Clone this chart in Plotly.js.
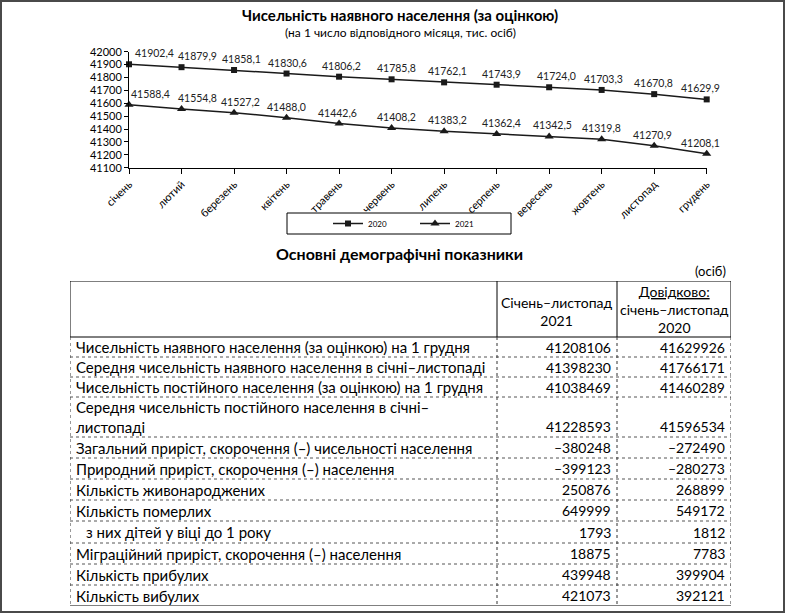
<!DOCTYPE html>
<html>
<head>
<meta charset="utf-8">
<script src="https://cdn.plot.ly/plotly-3.0.1.min.js"></script>
<style>html,body{margin:0;padding:0;background:#fff}#chart{width:786px;height:614px}</style>
</head>
<body>
<div id="chart"></div>
<script>
// ---- Chart data ----
const months = ['січень','лютий','березень','квітень','травень','червень','липень','серпень','вересень','жовтень','листопад','грудень'];
const pop2020 = [41902.4, 41879.9, 41858.1, 41830.6, 41806.2, 41785.8, 41762.1, 41743.9, 41724.0, 41703.3, 41670.8, 41629.9];
const pop2021 = [41588.4, 41554.8, 41527.2, 41488.0, 41442.6, 41408.2, 41383.2, 41362.4, 41342.5, 41319.8, 41270.9, 41208.1];
const seriesNames = ['2020', '2021'];

// ---- Table data ----
const tableHeader2021 = 'Січень–листопад<br>2021';
const tableHeader2020 = '<span style="text-decoration:underline">Довідково:</span><br>січень–листопад<br>2020';
const rowLabels = [
  'Чисельність наявного населення (за оцінкою) на 1 грудня',
  'Середня чисельність наявного населення в січні–листопаді',
  'Чисельність постійного населення (за оцінкою) на 1 грудня',
  'Середня чисельність постійного населення в січні–<br>листопаді',
  'Загальний приріст, скорочення (–) чисельності населення',
  'Природний приріст, скорочення (–) населення',
  'Кількість живонароджених',
  'Кількість померлих',
  '  з них дітей у віці до 1 року',
  'Міграційний приріст, скорочення (–) населення',
  'Кількість прибулих',
  'Кількість вибулих'
];
const values2021 = [41208106, 41398230, 41038469, 41228593, -380248, -399123, 250876, 649999, 1793, 18875, 439948, 421073];
const values2020 = [41629926, 41766171, 41460289, 41596534, -272490, -280273, 268899, 549172, 1812, 7783, 399904, 392121];

// ---- Layout constants ----
const W = 786, H = 614;
const FONT = 'Lato, "Open Sans", sans-serif';
const INK = '#1a1a1a';
const py = p => 1 - p / H;   // pixel row -> paper y
const px = p => p / W;       // pixel col -> paper x

const fmtDec = v => v.toFixed(1).replace('.', ',');
const fmtInt = v => (v < 0 ? '–' + Math.abs(v) : String(v));

// horizontal nudges (px) of the value labels, as placed in the original chart
const labelShift2020 = [25, 16, 7, 1, 2, 5, 3, 5, 7, 2, -1, -6];
const labelShift2021 = [21, 16, 6, 0, -2, 5, 3, 5, 3, 0, -2, -6];

const traces = [
  {
    x: months, y: pop2020, name: seriesNames[0], type: 'scatter', mode: 'lines+markers',
    line: {color: INK, width: 1.5}, marker: {symbol: 'square', size: 6, color: INK},
    cliponaxis: false, hoverinfo: 'x+y'
  },
  {
    x: months, y: pop2021, name: seriesNames[1], type: 'scatter', mode: 'lines+markers',
    line: {color: INK, width: 1.5}, marker: {symbol: 'triangle-up', size: 8, color: INK},
    cliponaxis: false, hoverinfo: 'x+y'
  }
];

const annotations = [];
const shapes = [];

// value labels, anchored to the data points through the axes
const lblFont = {family: FONT, size: 10.5, color: '#222'};
months.forEach((m, i) => {
  annotations.push({xref: 'x', yref: 'y', x: m, y: pop2020[i], text: fmtDec(pop2020[i]), showarrow: false,
    xanchor: 'center', yanchor: 'middle', xshift: labelShift2020[i], yshift: 11, font: lblFont});
  annotations.push({xref: 'x', yref: 'y', x: m, y: pop2021[i], text: fmtDec(pop2021[i]), showarrow: false,
    xanchor: 'center', yanchor: 'middle', xshift: labelShift2021[i], yshift: 11, font: lblFont});
});

// ---- Table geometry (table axes: x2 in fraction of table width, y2 in px from table top) ----
const tableTopPx = 281;
const headerH = 56;
const rowH = [20, 20, 20, 40, 21, 21, 21, 21, 22, 21, 21, 21];
const tableH = headerH + rowH.reduce((a, b) => a + b, 0);
const tLeft = 70, tRight = 731;
const colB = [0, (497 - tLeft) / (tRight - tLeft), (617 - tLeft) / (tRight - tLeft), 1];
const padX = 4 / (tRight - tLeft);

// titles
annotations.push({xref: 'paper', yref: 'paper', x: px(400), y: py(15), text: '<b>Чисельність наявного населення (за оцінкою)</b>',
  showarrow: false, xanchor: 'center', yanchor: 'middle', font: {family: FONT, size: 15, color: '#000'}});
annotations.push({xref: 'paper', yref: 'paper', x: px(400), y: py(32), text: '(на 1 число відповідного місяця, тис. осіб)',
  showarrow: false, xanchor: 'center', yanchor: 'middle', font: {family: FONT, size: 12, color: '#000'}});
annotations.push({xref: 'paper', yref: 'paper', x: px(399), y: py(254), text: '<b>Основні демографічні показники</b>',
  showarrow: false, xanchor: 'center', yanchor: 'middle', font: {family: FONT, size: 16, color: '#000'}});
annotations.push({xref: 'paper', yref: 'paper', x: px(728), y: py(271), text: '(осіб)',
  showarrow: false, xanchor: 'right', yanchor: 'middle', font: {family: FONT, size: 13, color: '#000'}});

// header cells
const tfont = {family: FONT, size: 14, color: '#000'};
const lfont = {family: FONT, size: 15, color: '#000'};
annotations.push({xref: 'x2', yref: 'y2', x: (colB[1] + colB[2]) / 2, y: headerH / 2 + 2, text: tableHeader2021,
  showarrow: false, xanchor: 'center', yanchor: 'middle', align: 'center', font: tfont});
annotations.push({xref: 'x2', yref: 'y2', x: (colB[2] + colB[3]) / 2, y: headerH / 2, text: tableHeader2020,
  showarrow: false, xanchor: 'center', yanchor: 'middle', align: 'center', font: tfont});

// body cells
let rowTop = headerH;
const bounds = [0, headerH];
rowLabels.forEach((lab, i) => {
  const h = rowH[i];
  const mid = rowTop + h / 2;
  const numY = lab.includes('<br>') ? rowTop + h - 10.5 : mid;
  const indent = lab.startsWith('  ') ? 10 / (tRight - tLeft) : 0;
  annotations.push({xref: 'x2', yref: 'y2', x: colB[0] + padX + indent, y: mid, text: lab.trim(),
    showarrow: false, xanchor: 'left', yanchor: 'middle', align: 'left', font: lfont});
  annotations.push({xref: 'x2', yref: 'y2', x: colB[2] - padX, y: numY, text: fmtInt(values2021[i]),
    showarrow: false, xanchor: 'right', yanchor: 'middle', font: tfont});
  annotations.push({xref: 'x2', yref: 'y2', x: colB[3] - padX, y: numY, text: fmtInt(values2020[i]),
    showarrow: false, xanchor: 'right', yanchor: 'middle', font: tfont});
  rowTop += h;
  bounds.push(rowTop);
});

// table lines
bounds.forEach((b, i) => {
  const solid = (i === 0 || i === 1 || i === bounds.length - 1);
  shapes.push({type: 'line', xref: 'x2', yref: 'y2', x0: 0, x1: 1, y0: b, y1: b,
    line: {color: solid ? '#000' : '#555', width: 1, dash: solid ? 'solid' : 'dot'}});
});
colB.forEach(c => {
  shapes.push({type: 'line', xref: 'x2', yref: 'y2', x0: c, x1: c, y0: 0, y1: headerH,
    line: {color: '#000', width: 1}});
  shapes.push({type: 'line', xref: 'x2', yref: 'y2', x0: c, x1: c, y0: headerH, y1: tableH,
    line: {color: '#333', width: 1, dash: 'dot'}});
});

// legend box
shapes.push({type: 'rect', xref: 'paper', yref: 'paper', x0: px(287), x1: px(511), y0: py(234), y1: py(213),
  line: {color: '#000', width: 1}, fillcolor: 'rgba(0,0,0,0)'});

// outer frame of the picture
shapes.push({type: 'rect', xref: 'paper', yref: 'paper', x0: px(1), x1: px(784), y0: py(612), y1: py(1),
  line: {color: '#4a4a4a', width: 2}});

const layout = {
  width: W, height: H,
  margin: {l: 0, r: 0, t: 0, b: 0},
  paper_bgcolor: '#fff', plot_bgcolor: '#fff',
  font: {family: FONT, color: '#000'},
  showlegend: true,
  legend: {orientation: 'h', x: px(328), y: py(223.5), xanchor: 'left', yanchor: 'middle',
    borderwidth: 0, font: {family: FONT, size: 8, color: '#000'},
    entrywidth: 42, itemwidth: 30, bgcolor: 'rgba(0,0,0,0)'},
  xaxis: {domain: [px(129), px(706.7)], range: [0, 11], type: 'category',
    showline: true, linecolor: '#000', linewidth: 1, ticks: 'outside', ticklen: 5, tickcolor: '#000',
    tickangle: -45, tickfont: {family: FONT, size: 11, color: '#000'}, showgrid: false, zeroline: false, fixedrange: true},
  yaxis: {domain: [py(167.7), py(51.7)], range: [41100, 42000], dtick: 100, tickformat: 'd',
    showline: true, linecolor: '#000', linewidth: 1, ticks: 'outside', ticklen: 4, tickcolor: '#000',
    tickfont: {family: FONT, size: 11, color: '#000'}, showgrid: false, zeroline: false, fixedrange: true},
  xaxis2: {domain: [px(tLeft), px(tRight)], range: [0, 1], visible: false, fixedrange: true, anchor: 'y2'},
  yaxis2: {domain: [py(tableTopPx + tableH), py(tableTopPx)], range: [tableH, 0], visible: false, fixedrange: true, anchor: 'x2'},
  annotations: annotations,
  shapes: shapes
};

Plotly.newPlot('chart', traces, layout, {displayModeBar: false, staticPlot: true});
</script>
</body>
</html>
